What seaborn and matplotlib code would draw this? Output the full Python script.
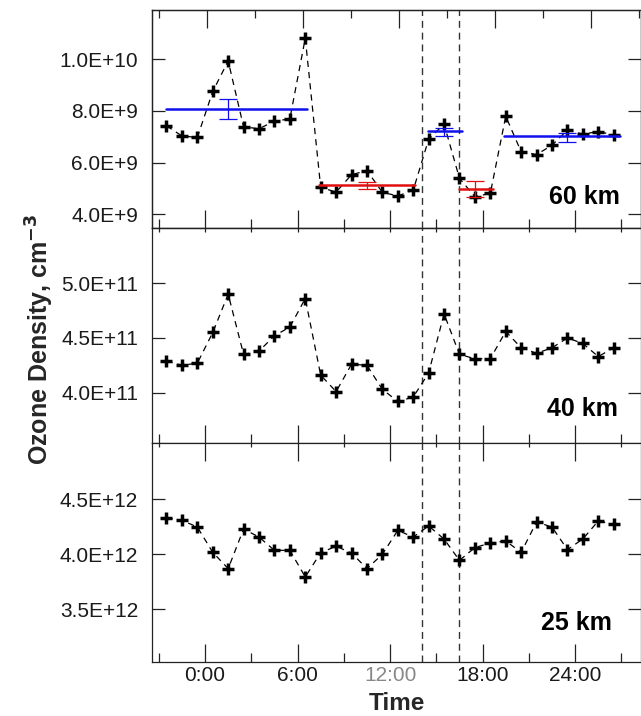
import matplotlib
matplotlib.use("Agg")
import matplotlib.pyplot as plt
import seaborn as sns
import numpy as np
from matplotlib.ticker import FixedLocator, FuncFormatter

# ---------------- data ----------------
hours = [-2.5, -1.5, -0.5, 0.5, 1.5, 2.5, 3.5, 4.5, 5.5, 6.5,
         7.5, 8.5, 9.5, 10.5, 11.5, 12.5, 13.5, 14.5, 15.5, 16.5,
         17.5, 18.5, 19.5, 20.5, 21.5, 22.5, 23.5, 24.5, 25.5, 26.5]

o3_60km = [7.42e9, 7.03e9, 6.97e9, 8.75e9, 9.93e9, 7.38e9, 7.31e9, 7.60e9, 7.69e9, 10.81e9,
           5.04e9, 4.86e9, 5.53e9, 5.69e9, 4.85e9, 4.71e9, 4.93e9, 6.90e9, 7.49e9, 5.39e9,
           4.68e9, 4.81e9, 7.79e9, 6.42e9, 6.31e9, 6.67e9, 7.26e9, 7.10e9, 7.20e9, 7.07e9]

o3_40km = [4.29e11, 4.25e11, 4.27e11, 4.55e11, 4.90e11, 4.35e11, 4.38e11, 4.52e11, 4.60e11, 4.86e11,
           4.16e11, 4.01e11, 4.26e11, 4.25e11, 4.03e11, 3.92e11, 3.96e11, 4.18e11, 4.72e11, 4.35e11,
           4.31e11, 4.31e11, 4.56e11, 4.41e11, 4.36e11, 4.41e11, 4.50e11, 4.45e11, 4.33e11, 4.41e11]

o3_25km = [4.334e12, 4.309e12, 4.248e12, 4.018e12, 3.870e12, 4.230e12, 4.157e12, 4.036e12, 4.036e12, 3.794e12,
           4.015e12, 4.073e12, 4.012e12, 3.870e12, 4.000e12, 4.218e12, 4.157e12, 4.258e12, 4.139e12, 3.945e12,
           4.061e12, 4.103e12, 4.121e12, 4.018e12, 4.294e12, 4.248e12, 4.043e12, 4.139e12, 4.303e12, 4.273e12]

# period means (60 km)
mean_start = [-2.55, 7.36, 14.46, 16.50, 19.40]
mean_end = [6.64, 13.60, 16.67, 18.65, 26.90]
mean_value = [8.09e9, 5.13e9, 7.22e9, 4.98e9, 7.03e9]
mean_color = ["#1010ee", "#e01010", "#1010ee", "#e01010", "#1010ee"]
err_time = [1.5, 10.5, 15.5, 17.5, 23.5]
err_low = [7.70e9, 4.98e9, 7.03e9, 4.68e9, 6.81e9]
err_high = [8.47e9, 5.26e9, 7.35e9, 5.29e9, 7.13e9]

event_times = [14.07, 16.47]

panel_names = ["60 km", "40 km", "25 km"]
yticks_60 = [4e9, 6e9, 8e9, 1e10]
yticks_40 = [4.0e11, 4.5e11, 5.0e11]
yticks_25 = [3.5e12, 4.0e12, 4.5e12]

xtick_major = [0, 6, 12, 18, 24]
xtick_labels = ["0:00", "6:00", "12:00", "18:00", "24:00"]
xtick_minor = [-3, 3, 9, 15, 21, 27]

# ---------------- style ----------------
sns.set_style("white")
plt.rcParams["font.family"] = ["Liberation Sans", "DejaVu Sans"]
plt.rcParams["axes.linewidth"] = 0.9
plt.rcParams["axes.edgecolor"] = "#222222"

fig = plt.figure(figsize=(6.41, 7.16), dpi=100)

L = 152 / 641
W = 488.5 / 641
ax60 = fig.add_axes([L, 1 - 228 / 716, W, 218 / 716])
ax40 = fig.add_axes([L, 1 - 443 / 716, W, 215 / 716])
ax25 = fig.add_axes([L, 1 - 662 / 716, W, 219 / 716])

panels = [
    (ax60, o3_60km, yticks_60, (3.47e9, 1.19e10), (0.958, 0.14)),
    (ax40, o3_40km, yticks_40, (3.54e11, 5.505e11), (0.954, 0.158)),
    (ax25, o3_25km, yticks_25, (3.021e12, 5.012e12), (0.942, 0.178)),
]


def sci_fmt(v, pos):
    m, e = f"{v:.1E}".split("E")
    return f"{m}E+{int(e)}"


for i, (ax, vals, yt, ylim, lab) in enumerate(panels):
    sns.lineplot(x=hours, y=vals, ax=ax, color="black", linewidth=0.9,
                 linestyle=(0, (5, 4)), marker="+", markersize=8.5,
                 markeredgewidth=2.5, markeredgecolor="black",
                 sort=False, errorbar=None, zorder=3)
    for t in event_times:
        ax.axvline(t, color="#333333", lw=1.0, linestyle=(0, (5, 3.5)), zorder=1)
    ax.set_xlim(-3.44, 28.24)
    ax.set_ylim(*ylim)
    ax.yaxis.set_major_locator(FixedLocator(yt))
    ax.yaxis.set_major_formatter(FuncFormatter(sci_fmt))
    ax.xaxis.set_major_locator(FixedLocator(xtick_major))
    ax.xaxis.set_minor_locator(FixedLocator(xtick_minor))
    ax.tick_params(axis="y", which="major", direction="in", left=True, right=True,
                   length=9.5, width=0.9, pad=10, labelsize=15, labelcolor="#1a1a1a",
                   color="#222222")
    ax.tick_params(axis="x", which="major", direction="in", bottom=True, top=(i != 0),
                   length=13, width=0.9, color="#222222")
    ax.tick_params(axis="x", which="minor", direction="in", bottom=True, top=(i != 0),
                   length=6.5, width=0.9, color="#222222")
    if i != 0:
        for tk in ax.xaxis.get_major_ticks() + ax.xaxis.get_minor_ticks():
            tk.tick2line.set_markersize(3)
    ax.set_xlabel("")
    ax.set_ylabel("")
    ax.text(lab[0], lab[1], panel_names[i], transform=ax.transAxes, ha="right",
            va="center", fontsize=18, fontweight="bold", color="black")
    for s in ax.spines.values():
        s.set_visible(True)
    if i < 2:
        ax.tick_params(axis="x", labelbottom=False)
    else:
        ax.set_xticklabels(xtick_labels)
        ax.tick_params(axis="x", labelsize=15, pad=3, labelcolor="#1a1a1a")
        ax.get_xticklabels()[2].set_color("#888888")

# mean lines with error bars (60 km)
for xs, xe, mv, c, et, lo, hi in zip(mean_start, mean_end, mean_value, mean_color,
                                       err_time, err_low, err_high):
    sns.lineplot(x=[xs, xe], y=[mv, mv], ax=ax60, color=c, linewidth=1.8,
                 errorbar=None, zorder=4)
    ax60.errorbar([et], [(lo + hi) / 2], yerr=[[(hi - lo) / 2], [(hi - lo) / 2]],
                  fmt="none", ecolor=c, elinewidth=0.9, capsize=6.5, capthick=0.9,
                  zorder=4)
ax60.set_xlabel("")
ax60.set_ylabel("")

# top axis of the upper panel (slightly different scale)
top = ax60.twiny()
top.set_xlim(-3.42, 27.11)
top.xaxis.set_major_locator(FixedLocator(xtick_major))
top.xaxis.set_minor_locator(FixedLocator(xtick_minor))
top.tick_params(axis="x", which="major", direction="in", length=13, width=0.9,
                labeltop=False, color="#222222")
top.tick_params(axis="x", which="minor", direction="in", length=6, width=0.9,
                color="#222222")

fig.text(40 / 641, 1 - 339 / 716, r"Ozone Density, cm$^{\mathbf{-3}}$", rotation=90,
         ha="center", va="center", fontsize=18, fontweight="bold")
fig.text(397 / 641, 1 - 704 / 716, "Time", ha="center", va="center",
         fontsize=17.5, fontweight="bold")

fig.savefig("out.png", dpi=100)
